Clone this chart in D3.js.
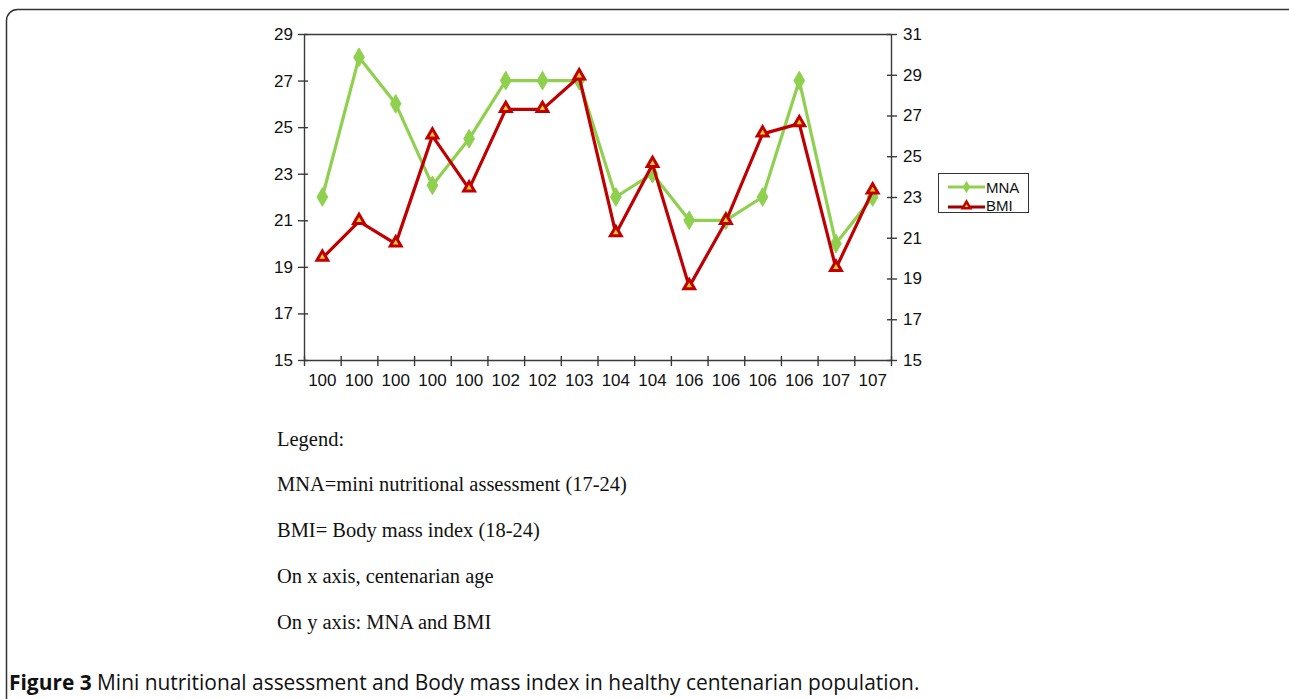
<!DOCTYPE html>
<html>
<head>
<meta charset="utf-8">
<script src="https://cdn.jsdelivr.net/npm/d3@7"></script>
<style>
  html, body { margin: 0; padding: 0; background: #fff; }
  svg { display: block; }
</style>
</head>
<body>
<svg id="chart" width="1289" height="699"></svg>
<script>
// ---- data ----
const ageLabels = ["100","100","100","100","100","102","102","103","104","104","106","106","106","106","107","107"];
const mnaValues = [22, 28, 26, 22.5, 24.5, 27, 27, 27, 22, 23, 21, 21, 22, 27, 20, 22];
const bmiValues = [20.0, 21.8, 20.7, 26.0, 23.4, 27.3, 27.3, 28.9, 21.2, 24.6, 18.6, 21.8, 26.1, 26.6, 19.5, 23.3];
const leftTicks = [15, 17, 19, 21, 23, 25, 27, 29];
const rightTicks = [15, 17, 19, 21, 23, 25, 27, 29, 31];
const seriesNames = ["MNA", "BMI"];
const noteLines = [
  "Legend:",
  "MNA=mini nutritional assessment (17-24)",
  "BMI= Body mass index (18-24)",
  "On x axis, centenarian age",
  "On y axis: MNA and BMI"
];
const captionBold = "Figure 3";
const captionRest = " Mini nutritional assessment and Body mass index in healthy centenarian population.";

// ---- layout ----
const svg = d3.select("#chart");
const plot = { left: 304, right: 891, top: 34, bottom: 360 };
const green = "#8fd14f";
const red = "#c00000";
const axisColor = "#3a3a3a";
const sansFont = "'Liberation Sans', Arial, sans-serif";

// outer rounded frame
svg.append("rect")
  .attr("x", 6.5).attr("y", 9.5).attr("width", 1300).attr("height", 720)
  .attr("rx", 11).attr("fill", "none").attr("stroke", "#333").attr("stroke-width", 1.5);

const idx = d3.range(ageLabels.length);
const x = d3.scaleBand().domain(idx).range([plot.left, plot.right]);
const xEdge = d3.scaleLinear().domain([0, ageLabels.length]).range([plot.left, plot.right]);
const yL = d3.scaleLinear().domain([15, 29]).range([plot.bottom, plot.top]);
const yR = d3.scaleLinear().domain([15, 31]).range([plot.bottom, plot.top]);

// top frame line
svg.append("line")
  .attr("x1", plot.left).attr("x2", plot.right)
  .attr("y1", plot.top + 0.5).attr("y2", plot.top + 0.5)
  .attr("stroke", axisColor).attr("stroke-width", 1.4);

function styleAxis(g) {
  g.attr("font-size", null).attr("font-family", null);
  g.select(".domain").attr("stroke", axisColor).attr("stroke-width", 1.4);
  g.selectAll(".tick line").attr("stroke", axisColor).attr("stroke-width", 1.4);
  g.selectAll(".tick text").attr("fill", "#111")
    .attr("font-family", sansFont).attr("font-size", 17);
}

// left axis
const gL = svg.append("g").attr("transform", `translate(${plot.left},0)`)
  .call(d3.axisLeft(yL).tickValues(leftTicks).tickSizeInner(6).tickSizeOuter(0).tickPadding(5));
styleAxis(gL);
gL.selectAll(".tick line").attr("x2", -6).attr("x1", 4);

// right axis
const gR = svg.append("g").attr("transform", `translate(${plot.right},0)`)
  .call(d3.axisRight(yR).tickValues(rightTicks).tickSizeInner(6).tickSizeOuter(0).tickPadding(6));
styleAxis(gR);
gR.selectAll(".tick line").attr("x2", 6).attr("x1", -4);

// bottom axis: tick marks at category boundaries
const gB = svg.append("g").attr("transform", `translate(0,${plot.bottom})`)
  .call(d3.axisBottom(xEdge).tickValues(d3.range(ageLabels.length + 1)).tickFormat("").tickSizeInner(6).tickSizeOuter(0));
styleAxis(gB);
gB.selectAll(".tick line").attr("y1", -4);

// bottom labels
const gBL = svg.append("g").attr("transform", `translate(0,${plot.bottom})`)
  .call(d3.axisBottom(x).tickFormat(i => ageLabels[i]).tickSize(0).tickPadding(14));
gBL.attr("font-size", null).attr("font-family", null);
gBL.select(".domain").remove();
gBL.selectAll(".tick text").attr("fill", "#111")
  .attr("font-family", sansFont).attr("font-size", 17);

const cx = i => x(i) + x.bandwidth() / 2;

// MNA line
svg.append("path")
  .datum(mnaValues)
  .attr("fill", "none").attr("stroke", green).attr("stroke-width", 3.2).attr("stroke-linejoin", "round")
  .attr("d", d3.line().x((d, i) => cx(i)).y(d => yL(d)));
svg.append("g").selectAll("path")
  .data(mnaValues).join("path")
  .attr("transform", (d, i) => `translate(${cx(i)},${yL(d)})`)
  .attr("d", d3.symbol(d3.symbolDiamond, 100)())
  .attr("fill", green).attr("stroke", green).attr("stroke-width", 1);

// BMI line
svg.append("path")
  .datum(bmiValues)
  .attr("fill", "none").attr("stroke", red).attr("stroke-width", 3.2).attr("stroke-linejoin", "round")
  .attr("d", d3.line().x((d, i) => cx(i)).y(d => yR(d)));
svg.append("g").selectAll("path")
  .data(bmiValues).join("path")
  .attr("transform", (d, i) => `translate(${cx(i)},${yR(d) - 1})`)
  .attr("d", d3.symbol(d3.symbolTriangle, 50)())
  .attr("fill", "#ffd21a").attr("stroke", red).attr("stroke-width", 3).attr("stroke-linejoin", "miter");

// legend box
const lg = svg.append("g").attr("transform", "translate(938,173)");
lg.append("rect").attr("x", 0.5).attr("y", 0.5).attr("width", 90).attr("height", 39)
  .attr("fill", "#fff").attr("stroke", "#333").attr("stroke-width", 1);
const legendColors = [green, "#a00000"];
const legendRowY = [14, 34];
const legendTextY = [19.5, 37.5];
seriesNames.forEach((name, k) => {
  const yy = legendRowY[k];
  lg.append("line").attr("x1", 10).attr("x2", 47).attr("y1", yy).attr("y2", yy)
    .attr("stroke", legendColors[k]).attr("stroke-width", 3);
  if (k === 0) {
    lg.append("path").attr("transform", `translate(28.5,${yy})`)
      .attr("d", d3.symbol(d3.symbolDiamond, 45)()).attr("fill", green);
  } else {
    lg.append("path").attr("transform", `translate(28.5,${yy - 1})`)
      .attr("d", d3.symbol(d3.symbolTriangle, 25)())
      .attr("fill", "#ffd21a").attr("stroke", red).attr("stroke-width", 2.5);
  }
  lg.append("text").attr("x", 48).attr("y", legendTextY[k])
    .attr("font-family", sansFont).attr("font-size", 15)
    .attr("fill", "#111").text(name);
});

// notes (Times)
const noteBaselines = [446, 491, 537, 583, 629];
const notes = svg.append("g");
noteLines.forEach((t, k) => {
  notes.append("text").attr("x", 277).attr("y", noteBaselines[k])
    .attr("font-family", "'Liberation Serif', 'Times New Roman', serif").attr("font-size", 19)
    .attr("fill", "#111").text(t);
});
// fit note font to reference width of the second line
(function () {
  const n = notes.selectAll("text").nodes()[1];
  const w = n.getComputedTextLength();
  const fs = 19 * 350 / w;
  notes.selectAll("text").attr("font-size", fs.toFixed(2));
})();

// caption
const cap = svg.append("text").attr("x", 9).attr("y", 690)
  .attr("font-family", "'Open Sans', 'Noto Sans', sans-serif").attr("font-size", 17)
  .attr("fill", "#111");
cap.append("tspan").attr("font-weight", "bold").text(captionBold);
cap.append("tspan").text(captionRest);
(function () {
  const w = cap.node().getComputedTextLength();
  const fs = 17 * 911 / w;
  cap.attr("font-size", fs.toFixed(2));
})();
</script>
</body>
</html>
